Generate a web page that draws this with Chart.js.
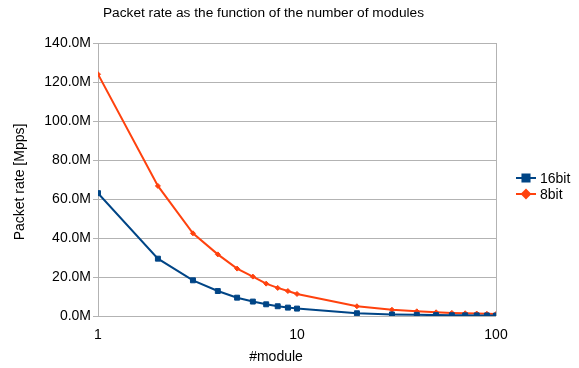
<!DOCTYPE html>
<html>
<head>
<meta charset="utf-8">
<script src="https://cdn.jsdelivr.net/npm/chart.js@4"></script>
<style>
  html, body { margin: 0; padding: 0; background: #ffffff; }
  #wrap { width: 579px; height: 368px; position: relative; }
</style>
</head>
<body>
<div id="wrap"><canvas id="c" width="579" height="368"></canvas></div>
<script>
// Number of modules (log axis)
const modules = [1, 2, 3, 4, 5, 6, 7, 8, 9, 10, 20, 30, 40, 50, 60, 70, 80, 90, 100];
// Packet rate in Mpps
const rate16bit = [63.0, 29.4, 18.3, 12.8, 9.4, 7.4, 6.0, 5.0, 4.3, 3.8, 1.4, 0.8, 0.6, 0.45, 0.38, 0.33, 0.3, 0.28, 0.26];
const rate8bit  = [124.0, 66.7, 42.4, 31.6, 24.3, 20.2, 16.6, 14.4, 12.8, 11.3, 5.0, 3.2, 2.4, 1.9, 1.6, 1.4, 1.25, 1.1, 1.0];
const xTicks = [1, 10, 100];
const yTicks = [0, 20, 40, 60, 80, 100, 120, 140];

const titleText = 'Packet rate as the function of the number of modules';
const xTitle = '#module';
const yTitle = 'Packet rate [Mpps]';
const seriesNames = ['16bit', '8bit'];

const FONT = '"Liberation Sans", Arial, sans-serif';
const BLUE = '#004586';
const ORANGE = '#ff420e';
const GRID = '#b3b3b3';

// Title, axis titles, right border and legend
const decorations = {
  id: 'decorations',
  afterDraw(chart) {
    const ctx = chart.ctx;
    const a = chart.chartArea;
    ctx.save();
    // right frame line
    ctx.strokeStyle = GRID;
    ctx.lineWidth = 1;
    ctx.beginPath();
    ctx.moveTo(Math.round(a.right) + 0.5, a.top);
    ctx.lineTo(Math.round(a.right) + 0.5, a.bottom);
    ctx.stroke();

    ctx.fillStyle = '#000000';
    ctx.textBaseline = 'middle';
    ctx.textAlign = 'center';
    ctx.font = '13.7px ' + FONT;
    ctx.fillText(titleText, 263.5, 13);

    ctx.font = '14px ' + FONT;
    ctx.fillText(xTitle, 276, 357);

    ctx.save();
    ctx.translate(20, 182);
    ctx.rotate(-Math.PI / 2);
    ctx.fillText(yTitle, 0, 0);
    ctx.restore();

    // legend
    const rows = [178, 194];
    chart.data.datasets.forEach((ds, i) => {
      const y = rows[i];
      ctx.strokeStyle = ds.borderColor;
      ctx.lineWidth = 2;
      ctx.beginPath();
      ctx.moveTo(516, y);
      ctx.lineTo(536, y);
      ctx.stroke();
      Chart.helpers.drawPoint(ctx, {
        pointStyle: ds.pointStyle,
        radius: ds.pointRadius + 1.5,
        borderWidth: 1
      }, 526, y);
      ctx.fillStyle = ds.pointBackgroundColor;
      ctx.strokeStyle = ds.pointBorderColor;
      ctx.fill();
      ctx.fillStyle = '#000000';
      ctx.textAlign = 'left';
      ctx.font = '14px ' + FONT;
      ctx.fillText(seriesNames[i], 540, y + 1);
    });
    ctx.restore();
  }
};

new Chart(document.getElementById('c'), {
  type: 'line',
  data: {
    datasets: [
      {
        label: seriesNames[0],
        data: modules.map((m, i) => ({ x: m, y: rate16bit[i] })),
        borderColor: BLUE,
        backgroundColor: BLUE,
        pointBackgroundColor: BLUE,
        pointBorderColor: BLUE,
        pointBorderWidth: 1,
        pointStyle: 'rect',
        pointRadius: 3.5,
        borderWidth: 2,
        tension: 0
      },
      {
        label: seriesNames[1],
        data: modules.map((m, i) => ({ x: m, y: rate8bit[i] })),
        borderColor: ORANGE,
        backgroundColor: ORANGE,
        pointBackgroundColor: ORANGE,
        pointBorderColor: ORANGE,
        pointBorderWidth: 1,
        pointStyle: 'rectRot',
        pointRadius: 2.5,
        borderWidth: 2,
        tension: 0
      }
    ]
  },
  options: {
    responsive: false,
    animation: false,
    layout: { padding: { left: 0, right: 83, top: 43, bottom: 0 } },
    plugins: {
      legend: { display: false },
      title: { display: false },
      tooltip: { enabled: false }
    },
    scales: {
      x: {
        type: 'logarithmic',
        min: 1,
        max: 100,
        afterBuildTicks(scale) { scale.ticks = xTicks.map(v => ({ value: v })); },
        afterFit(scale) { scale.height = 52; },
        grid: { display: false },
        border: { display: false },
        ticks: {
          padding: 3,
          color: '#000000',
          font: { family: FONT, size: 14 },
          maxRotation: 0,
          callback: v => String(v)
        }
      },
      y: {
        min: 0,
        max: 140,
        afterBuildTicks(scale) { scale.ticks = yTicks.map(v => ({ value: v })); },
        afterFit(scale) { scale.width = 98; },
        grid: { color: GRID, lineWidth: 1, tickLength: 5 },
        border: { display: true, color: GRID, width: 1 },
        ticks: {
          padding: 2,
          color: '#000000',
          font: { family: FONT, size: 14 },
          callback: v => v.toFixed(1) + 'M'
        }
      }
    }
  },
  plugins: [decorations]
});
</script>
</body>
</html>
